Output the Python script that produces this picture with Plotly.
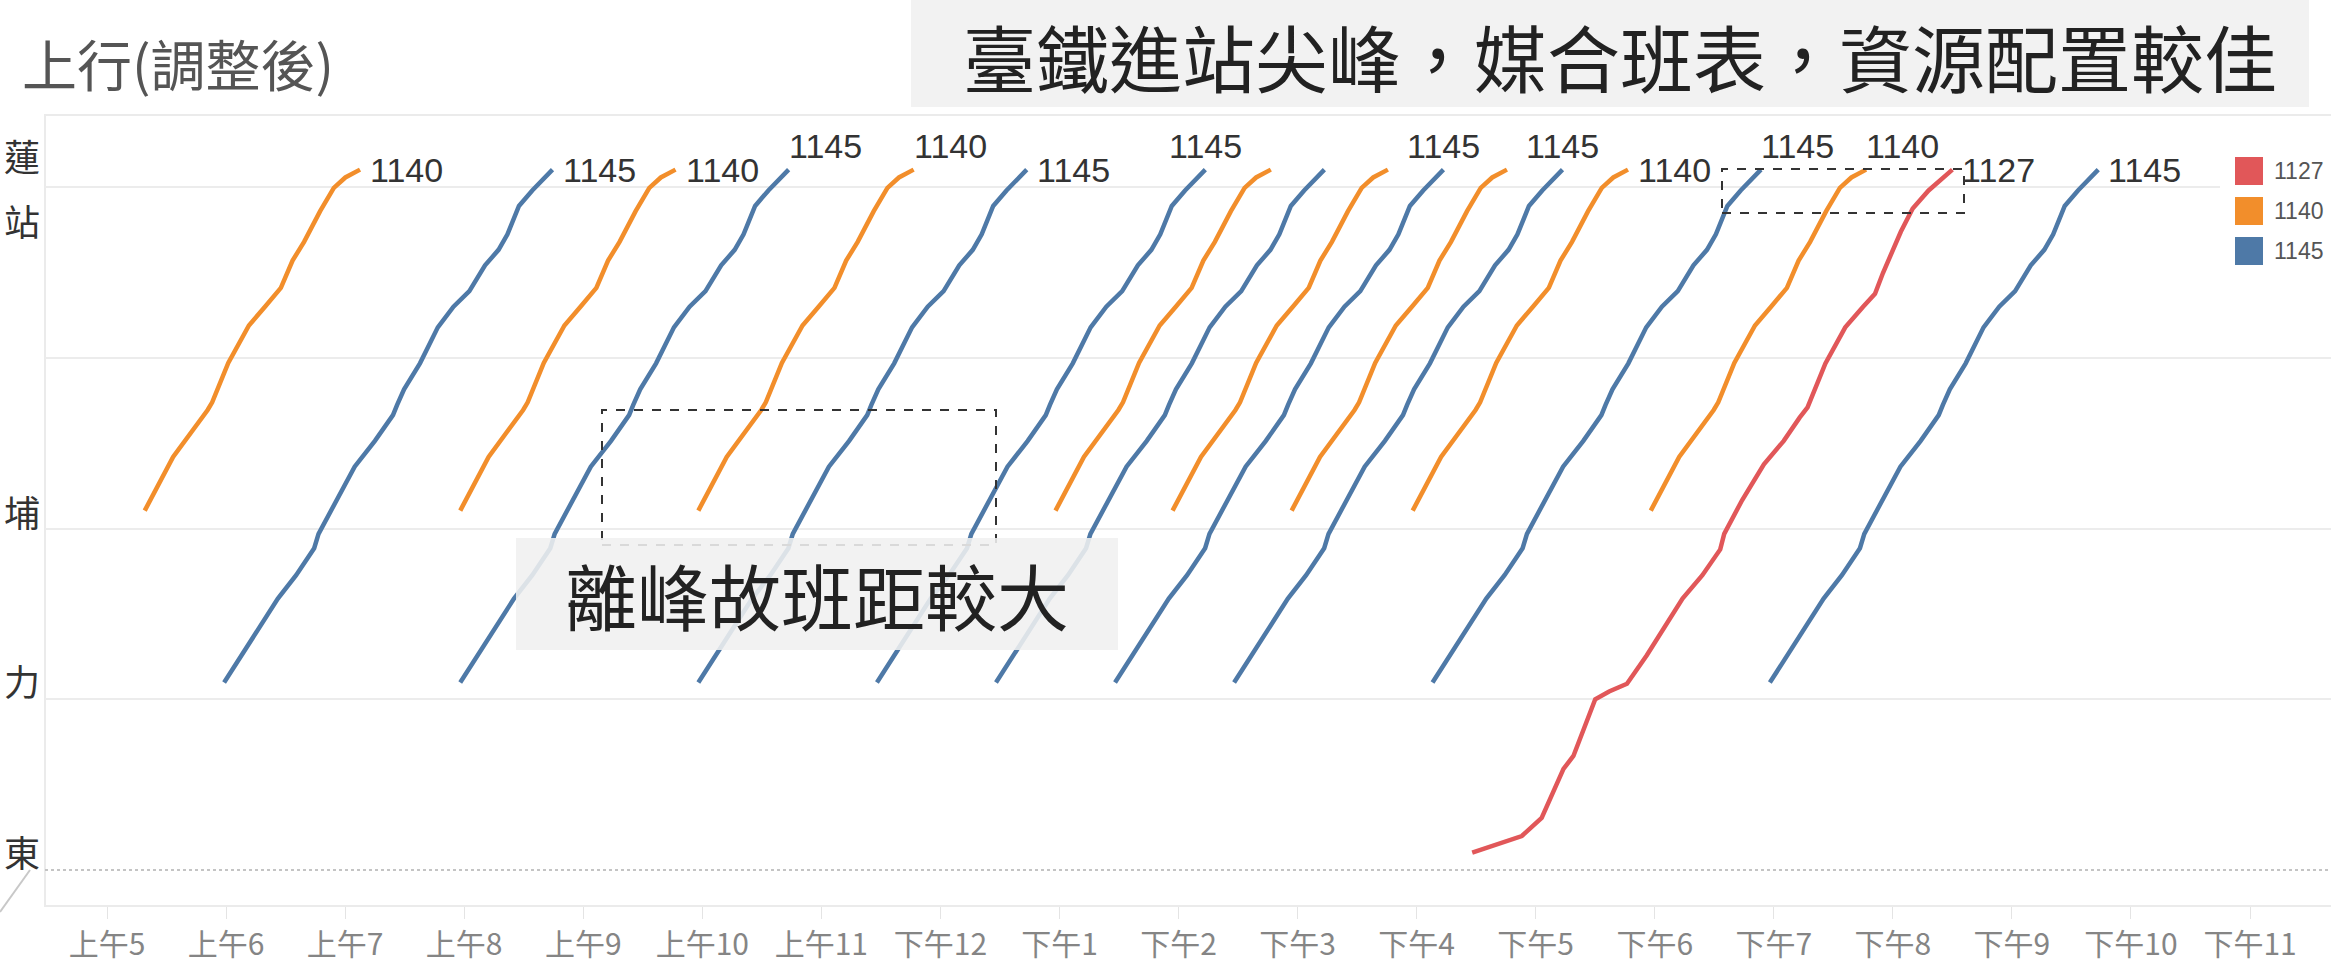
import plotly.graph_objects as go

# ---------------- data ----------------
HOUR_TICKS = list(range(5, 24))
HOUR_LABELS = ["上午5", "上午6", "上午7", "上午8", "上午9", "上午10", "上午11",
               "下午12", "下午1", "下午2", "下午3", "下午4", "下午5", "下午6",
               "下午7", "下午8", "下午9", "下午10", "下午11"]

ROUTES = ["1127", "1140", "1145"]
ROUTE_COLORS = {"1127": "#E15759", "1140": "#F28E2B", "1145": "#4E79A7"}

# route 1145: stop distance (km) and running time from origin (min), departures
KM_1145 = [10.98, 12.58, 14.24, 15.90, 17.27, 18.85, 19.69, 21.66, 23.63, 25.14, 26.65, 27.25,
           28.16, 29.68, 31.79, 33.00, 33.91, 35.42, 36.33, 37.24, 38.90, 39.81, 41.03]
MIN_1145 = [0, 9.0, 18.1, 27.1, 36.3, 45.4, 47.6, 56.6, 65.8, 76.0, 85.1, 87.2,
            90.7, 98.7, 107.7, 115.6, 123.6, 131.5, 138.3, 142.8, 148.6, 155.3, 165.5]
DEP_1145 = ["05:59", "07:58", "09:58", "11:28", "12:28", "13:28", "14:28", "16:08", "18:58"]
LABEL_1145 = ["right", "above", "right", "center", "", "center", "center", "above", "right"]

# route 1140
KM_1140 = [21.05, 24.2, 26.95, 27.4, 29.7, 31.9, 33.0, 34.1, 35.7, 36.8, 38.6, 39.96, 40.57, 41.03]
MIN_1140 = [0, 14.3, 31.7, 34.0, 42.1, 52.5, 60.6, 68.6, 74.5, 80.3, 88.4, 95.3, 101.1, 108.5]
DEP_1140 = ["05:19", "07:58", "09:58", "12:58", "13:57", "14:57", "15:58", "17:58"]
LABEL_1140 = ["right", "right", "above", "", "", "", "right", "above"]

# route 1127: single trip, stop distance and passing time
KM_1127 = [1.02, 1.53, 1.99, 3.05, 4.56, 5.92, 6.68, 7.89, 10.0, 10.46, 10.91, 12.58, 14.24,
           15.9, 17.27, 18.78, 19.69, 21.66, 23.77, 25.14, 26.5, 27.1, 29.68, 31.79, 33.0,
           33.76, 34.97, 36.33, 37.39, 38.75, 39.81, 41.03]
TIME_1127 = ["16:28", "16:41", "16:53", "17:03", "17:09", "17:14", "17:19", "17:23", "17:30",
             "17:37", "17:46", "17:56", "18:05", "18:14", "18:24", "18:33", "18:35", "18:44",
             "18:55", "19:05", "19:13", "19:17", "19:26", "19:36", "19:45", "19:51", "19:55",
             "20:00", "20:04", "20:10", "20:18", "20:30"]
LABEL_1127 = "right"

STATIONS = ["蓮", "站", "埔", "力", "東"]

TITLE = "上行(調整後)"
NOTE_TOP = "臺鐵進站尖峰，媒合班表，資源配置較佳"
NOTE_MID = "離峰故班距較大"

# ---------------- layout helpers ----------------
W, H = 2331, 965
PL, PR, PT, PB = 45, 2331, 115, 906


def xp(px):
    return (px - PL) / (PR - PL)


def yp(py):
    return (PB - py) / (PB - PT)


def hours(s):
    h, m = s.split(":")
    return int(h) + int(m) / 60.0


CJK = "Noto Sans CJK TC, Noto Sans CJK SC, sans-serif"
NUMF = "Liberation Sans, Arial, sans-serif"
LBL = 34

fig = go.Figure()
annotations = []


def add_label(x_end, y_end, text, mode):
    if not mode:
        return
    base = dict(x=x_end, y=y_end, xref="x", yref="y", text=text, showarrow=False,
                yanchor="middle", font=dict(family=NUMF, size=LBL, color="#333333"))
    if mode == "right":
        base.update(xanchor="left", xshift=8)
    elif mode == "above":
        base.update(xanchor="left", xshift=-2, yshift=24)
    elif mode == "center":
        base.update(xanchor="center", yshift=24)
    annotations.append(base)


def add_route(route, km, mins, deps, labels):
    for i, d in enumerate(deps):
        t0 = hours(d)
        xs = [t0 + m / 60.0 for m in mins]
        fig.add_trace(go.Scatter(x=xs, y=km, mode="lines",
                                 line=dict(color=ROUTE_COLORS[route], width=4.5),
                                 showlegend=False, hoverinfo="skip"))
        add_label(xs[-1], km[-1], route, labels[i])


add_route("1140", KM_1140, MIN_1140, DEP_1140, LABEL_1140)
add_route("1145", KM_1145, MIN_1145, DEP_1145, LABEL_1145)

x1127 = [hours(t) for t in TIME_1127]
fig.add_trace(go.Scatter(x=x1127, y=KM_1127, mode="lines",
                         line=dict(color=ROUTE_COLORS["1127"], width=4.5),
                         showlegend=False, hoverinfo="skip"))
add_label(x1127[-1], KM_1127[-1], "1127", LABEL_1127)

shapes = []
# pane border
shapes.append(dict(type="rect", xref="paper", yref="paper", x0=0, x1=1.02, y0=0, y1=1,
                   line=dict(color="#ebebeb", width=2), layer="below"))
# zero reference line (dotted)
shapes.append(dict(type="line", xref="paper", yref="y", x0=0, x1=1, y0=0, y1=0,
                   line=dict(color="#c4c4c4", width=2, dash="dot"), layer="below"))
# legend background
shapes.append(dict(type="rect", xref="paper", yref="paper", x0=xp(2220), x1=xp(2340),
                   y0=yp(280), y1=yp(140), fillcolor="white", line=dict(width=0), layer="above"))
# top note box
shapes.append(dict(type="rect", xref="paper", yref="paper", x0=xp(911), x1=xp(2309),
                   y0=yp(107), y1=yp(-5), fillcolor="#f2f2f2", line=dict(width=0)))
# dashed highlight boxes
shapes.append(dict(type="rect", xref="paper", yref="paper", x0=xp(602), x1=xp(996),
                   y0=yp(545), y1=yp(410), line=dict(color="#333333", width=2, dash="dash"),
                   layer="above"))
shapes.append(dict(type="rect", xref="paper", yref="paper", x0=xp(1722), x1=xp(1964),
                   y0=yp(213), y1=yp(169), line=dict(color="#333333", width=2, dash="dash"),
                   layer="above"))
# middle note box (semi transparent)
shapes.append(dict(type="rect", xref="paper", yref="paper", x0=xp(516), x1=xp(1118),
                   y0=yp(650), y1=yp(538), fillcolor="rgba(240,240,240,0.88)",
                   line=dict(width=0), layer="above"))
# small diagonal stroke at bottom-left
shapes.append(dict(type="line", xref="paper", yref="paper", x0=xp(0), x1=xp(30),
                   y0=yp(912), y1=yp(870), line=dict(color="#c8c8c8", width=2)))

# legend swatches
leg_y = [171, 211, 251]
for r, cy in zip(ROUTES, leg_y):
    shapes.append(dict(type="rect", xref="paper", yref="paper", x0=xp(2235), x1=xp(2263),
                       y0=yp(cy + 14), y1=yp(cy - 14), fillcolor=ROUTE_COLORS[r],
                       line=dict(width=0), layer="above"))
    annotations.append(dict(x=xp(2272), y=yp(cy), xref="paper", yref="paper", text=r,
                            showarrow=False, xanchor="left", yanchor="middle",
                            font=dict(family=NUMF, size=23, color="#555555")))

# title
annotations.append(dict(x=xp(20), y=yp(62), xref="paper", yref="paper", text=TITLE,
                        showarrow=False, xanchor="left", yanchor="middle",
                        font=dict(family=CJK, size=55, color="#555555")))
# notes
annotations.append(dict(x=xp(1620), y=yp(55), xref="paper", yref="paper", text=NOTE_TOP,
                        showarrow=False, xanchor="center", yanchor="middle",
                        font=dict(family=CJK, size=73, color="#222222")))
annotations.append(dict(x=xp(817), y=yp(593), xref="paper", yref="paper", text=NOTE_MID,
                        showarrow=False, xanchor="center", yanchor="middle",
                        font=dict(family=CJK, size=72, color="#222222")))

# station labels on the far left (kept fully inside the page)
st_pos = [155, 220, 511, 680, 851]
for name, cy in zip(STATIONS, st_pos):
    annotations.append(dict(x=xp(2), y=yp(cy), xref="paper", yref="paper", text=name,
                            showarrow=False, xanchor="left", yanchor="middle",
                            font=dict(family=CJK, size=36, color="#333333")))

fig.update_layout(
    width=W, height=H,
    margin=dict(l=PL, r=W - PR, t=PT, b=H - PB, pad=0),
    paper_bgcolor="white", plot_bgcolor="white",
    showlegend=False,
    xaxis=dict(range=[4.479, 23.68], tickvals=HOUR_TICKS, ticktext=HOUR_LABELS,
               showgrid=False, zeroline=False, showline=False,
               ticks="outside", ticklen=12, tickcolor="#e4e4e4", tickwidth=1,
               tickfont=dict(family=CJK, size=30, color="#858585")),
    yaxis=dict(range=[-2.11, 44.23], tickvals=[10, 20, 30, 40], showticklabels=False,
               showgrid=True, gridcolor="#ececec", gridwidth=2, zeroline=False,
               showline=False, ticks=""),
    shapes=shapes,
    annotations=annotations,
)

fig.write_html("out.html", config={"displayModeBar": False},
               post_script="document.body.style.margin='0';document.body.style.overflow='hidden';")
